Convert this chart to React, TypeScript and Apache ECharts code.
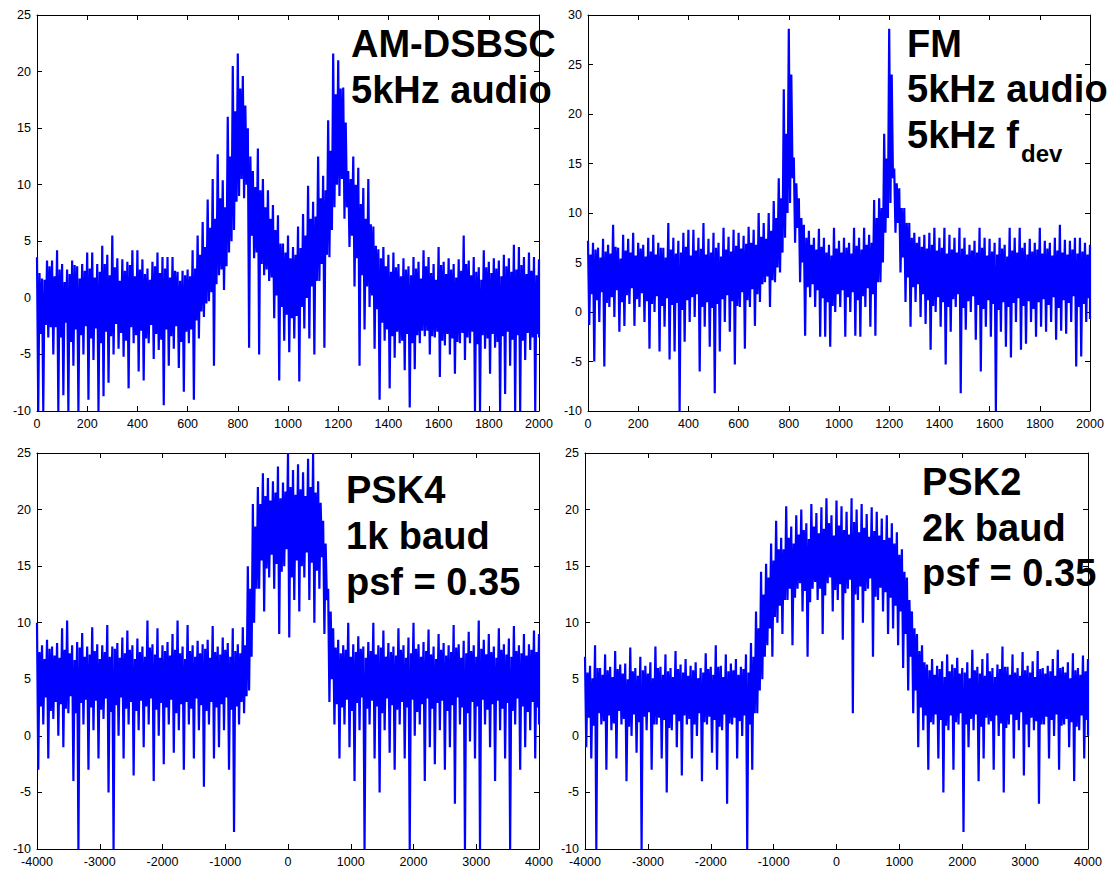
import React, { useEffect, useRef } from 'react';
import * as echarts from 'echarts';

// ---------- frequency grids ----------
const TOP_START = 0;
const TOP_STEP = 20; // Hz per bin
const BOT_START = -4000;
const BOT_STEP = 80; // Hz per bin

// Each bin holds an extreme excursion (HI/LO) and a typical excursion (MID_HI/MID_LO), in dB.

// ---------- AM-DSBSC (top-left) ----------
const AM_HI = [
  3.6, 1.7, 3.3, 3.3, 4.2, 3, 2.5, 3.3, 2.8, 3,
  4, 4, 3, 4.6, 3.8, 5.5, 3.5, 3.4, 3.2, 4.2,
  4.2, 3.4, 2.6, 3.2, 4, 3.6, 3.6, 3.6, 2.3, 2.4,
  2.5, 4.2, 5.5, 6.7, 8.7, 10.5, 12.7, 10.4, 16, 20.5,
  21.6, 19.6, 15, 11.2, 13.2, 10.5, 9.5, 8.2, 7.3, 4.8,
  5.5, 4.5, 6.3, 7.4, 9.9, 8.5, 12.5, 10.8, 15.7, 21.6,
  21, 18.6, 11.2, 12.5, 11.5, 9.7, 10.5, 6.3, 4.3, 4.5,
  3.8, 4, 3, 3.5, 2.8, 3.6, 3.2, 4.2, 3.6, 3,
  4.5, 3.2, 3.5, 3, 3.4, 5.5, 3.3, 3.6, 2.7, 4.2,
  3.2, 3.5, 3.3, 3.8, 3.5, 4.7, 4.5, 3.6, 4, 3.6,
  3.4,
];
const AM_LO = [
  -10, -10, -3.5, -5, -10, -8.6, -10, -6, -10, -5,
  -9, -5.5, -10, -8.7, -7.5, -5, -4.5, -5.2, -8, -4,
  -6.5, -7.3, -4, -5.4, -4.6, -9.5, -6, -4.5, -6.2, -8.3,
  -4, -9, -3.6, -1.7, -0.3, -6, 2, 0.7, 4, 6,
  9, 8.8, -4.4, 3.5, -5, 2, 1.5, -1.8, -7.3, -3.8,
  -4.8, -3.6, -7.4, -2.7, -3.6, -5, 1.5, -4.4, 3.6, 8,
  9, 7, 4.5, 1, -6, -2.8, -0.8, -4.5, -9, -3.8,
  -8, -5.3, -4, -6.4, -9.7, -6.3, -4, -3.4, -5, -3.5,
  -7, -4.2, -5, -6.7, -4, -5.5, -4, -10, -10, -4.5,
  -6.7, -4.4, -10, -8.5, -6, -10, -10, -5.5, -4.6, -10,
  -3.5,
];
const AM_MID_HI = [
  2.2, 1.6, 2.8, 1.9, 2.5, 1.4, 2.1, 2.9, 1.7, 2.4,
  2.6, 1.8, 2.3, 3.0, 2.0, 2.7, 1.5, 2.4, 2.9, 1.9,
  2.5, 2.1, 1.6, 2.8, 2.2, 2.6, 1.8, 2.4, 1.5, 2.0,
  1.9, 2.6, 3.8, 4.5, 6.2, 7.0, 8.8, 8.0, 12.5, 16.5,
  18.5, 17.0, 12.5, 9.8, 9.5, 8.0, 7.0, 6.0, 4.8, 4.0,
  3.5, 3.8, 4.4, 5.5, 7.0, 7.2, 8.8, 9.5, 13.0, 18.0,
  18.5, 15.5, 10.5, 10.0, 8.3, 7.0, 6.5, 4.6, 3.5, 2.8,
  2.3, 2.7, 1.9, 2.5, 2.0, 2.6, 1.7, 2.8, 2.2, 1.6,
  2.9, 2.1, 2.5, 1.8, 2.4, 3.0, 2.0, 2.3, 1.6, 2.7,
  2.2, 2.6, 1.9, 2.8, 2.3, 2.5, 2.9, 2.1, 2.4, 2.0,
  2.6,
];
const AM_MID_LO = [
  -3.2, -2.4, -2.6, -2.6, -3.5, -2.2, -3.9, -2.8, -3.3, -2.5,
  -3.6, -2.7, -4.0, -3.0, -3.4, -2.3, -3.1, -3.8, -2.6, -3.3,
  -2.9, -3.6, -2.4, -3.2, -3.7, -2.8, -3.4, -2.5, -3.9, -3.0,
  -2.8, -2.0, -1.2, -0.5, 0.5, 1.2, 2.5, 2.8, 5.0, 8.5,
  10.5, 10.0, 5.5, 4.0, 3.0, 2.5, 1.8, 0.2, -0.8, -1.5,
  -1.8, -1.6, -0.8, 0.0, 1.0, 1.5, 3.0, 3.8, 6.0, 10.0,
  10.5, 8.0, 5.5, 3.5, 2.0, 1.0, 0.2, -1.0, -2.2, -2.8,
  -3.4, -3.0, -3.8, -3.2, -4.0, -3.3, -2.9, -2.9, -3.4, -3.0,
  -3.8, -3.2, -3.6, -3.9, -3.1, -3.5, -3.0, -4.1, -3.3, -3.6,
  -3.2, -3.9, -3.4, -3.0, -3.7, -3.3, -3.8, -3.1, -3.5, -3.2,
  -2.8,
];

// ---------- FM (top-right) ----------
const FM_HI = [
  7.2, 7, 6.5, 7.4, 6.8, 8.8, 6.5, 7.8, 7.4, 8,
  7, 6.8, 7.5, 7.8, 7, 6.5, 9, 7.5, 7.2, 8,
  8.3, 8.3, 7.5, 9, 7.4, 8, 7, 8.5, 7.6, 8.3,
  8, 7.7, 8.6, 8.3, 10, 9, 10, 11.2, 13.5, 22.5,
  28.6, 15.6, 11.5, 8.8, 8.2, 7.5, 8.4, 7.5, 6.8, 8.5,
  7.2, 7.5, 7, 8.5, 7.5, 8.5, 7.8, 11.3, 11.5, 18,
  28.6, 14.5, 12.5, 10.5, 9, 8, 7.6, 7.8, 8, 8.5,
  7.5, 8.5, 7.8, 7.5, 8.5, 7.5, 6.8, 7.2, 8.5, 7.5,
  7.4, 7, 7.5, 6.8, 8.5, 7.5, 8.5, 7, 7.4, 7,
  8.5, 7.2, 7, 7.5, 8.8, 7.3, 7.2, 7.5, 7.5, 7,
  6.8,
];
const FM_LO = [
  -1.3, -5, -1, -5.5, 0.5, -0.5, -2, -1.4, 0.8, -1.4,
  0.5, -1, -3.7, 0, -4, -1.5, -4.8, -4, -10, -3,
  -1, -0.5, -6, -1.5, -3.5, -8.2, -4, -1, -2, -5.3,
  0.5, -3.7, 0.5, -1.4, 1, 3, 0.5, 3, 4, 7.5,
  11, 7, 3, -2.4, 1.5, 0.5, -2.5, -2.5, -3.5, 0,
  0.5, -2.5, 0, -2.4, -2.5, 0.5, -1.5, -2.4, 3, 8,
  11, 8, 4, 1, -1.5, 1, -0.5, -1.2, -3.8, 0,
  -1.5, -5.3, -2, 0.5, -8.2, -1.8, 0, -2.8, -6, -1.5,
  -2.5, -10, -2, -3.5, -4.6, -1, -3.8, -3.2, -1, -2.5,
  -1.5, -2, -1, -2.8, -1.9, -2.2, -1, -5.5, -4.5, -1,
  -0.7,
];
const FM_MID_HI = [
  5.8, 6.3, 5.5, 6.1, 5.9, 6.6, 5.4, 6.2, 6.0, 5.7,
  6.4, 5.6, 6.1, 5.8, 6.5, 5.5, 6.3, 5.9, 6.0, 6.6,
  5.7, 6.2, 6.4, 5.8, 6.0, 6.5, 5.6, 6.3, 6.1, 6.7,
  6.4, 6.9, 7.0, 6.8, 7.6, 7.4, 8.2, 9.5, 11.5, 18.0,
  24.0, 13.0, 9.5, 7.5, 6.8, 6.3, 6.6, 6.0, 5.7, 6.4,
  6.0, 6.5, 5.9, 6.7, 6.3, 6.8, 7.0, 9.5, 10.5, 15.5,
  24.0, 13.0, 10.5, 9.0, 7.5, 7.0, 6.6, 6.4, 6.8, 6.2,
  6.5, 5.9, 6.3, 6.0, 6.4, 5.8, 6.2, 6.0, 6.5, 5.7,
  6.1, 5.8, 6.4, 5.6, 6.2, 6.0, 6.5, 5.8, 6.1, 6.3,
  5.9, 6.4, 5.7, 6.2, 6.0, 5.8, 6.3, 5.9, 6.1, 5.8,
  6.0,
];
const FM_MID_LO = [
  1.8, 1.2, 2.0, 0.9, 1.5, 2.2, 1.0, 1.7, 2.4, 1.3,
  1.9, 1.1, 0.8, 1.6, 0.6, 1.4, 0.7, 0.9, 0.2, 1.2,
  1.5, 1.8, 0.5, 1.0, 0.4, 0.8, 1.3, 1.7, 1.1, 0.6,
  2.0, 1.2, 2.3, 1.8, 2.8, 3.6, 3.2, 4.5, 6.0, 10.0,
  13.5, 8.5, 5.0, 2.5, 2.8, 2.2, 1.4, 1.0, 0.6, 1.8,
  2.2, 1.5, 2.0, 1.2, 1.6, 2.4, 1.8, 3.0, 5.0, 9.5,
  13.5, 9.0, 5.5, 3.5, 2.5, 2.8, 1.8, 1.2, 0.6, 1.5,
  1.0, 0.5, 1.3, 1.8, 0.4, 1.1, 1.6, 0.7, 0.3, 1.2,
  0.8, 0.2, 1.0, 0.5, 0.9, 1.4, 0.6, 1.1, 0.3, 1.0,
  1.3, 0.7, 1.5, 0.4, 1.2, 0.9, 1.6, 0.5, 0.8, 1.4,
  1.5,
];

// ---------- PSK4 (bottom-left) ----------
const PSK4_HI = [
  10, 8.0, 8.5, 7.9, 8.2, 9.5, 10.2, 8.0, 8.3, 9.1,
  7.9, 9.6, 8.1, 8.0, 9.8, 7.9, 8.2, 8.7, 9.3, 8.0,
  8.6, 7.9, 10.2, 8.1, 9.5, 8.0, 8.3, 9.0, 10.2, 7.9,
  9.8, 8.0, 8.4, 8.1, 8.5, 9.7, 7.9, 8.7, 8.2, 9.5,
  8.1, 9.6, 15, 20.5, 22, 23.2, 22.8, 22.5, 23.8, 22.4,
  25, 23.5, 24, 23.3, 24.5, 25, 22.5, 19, 13, 9.5,
  8.5, 8.0, 10, 8.1, 8.8, 7.9, 8.3, 10, 8.0, 9.3,
  8.2, 7.9, 9.5, 8.0, 8.7, 10, 8.1, 8.3, 9.4, 7.9,
  9, 8.2, 8.0, 9.8, 8.1, 8.4, 9.2, 8.0, 10.2, 8.5,
  9, 7.9, 9.5, 8.1, 8.6, 9.7, 8.0, 9, 8.1, 9.3,
  9,
];
const PSK4_LO = [
  -3, 1, -2, 1.5, 0, -1, 2, -4, -10, 1,
  -3, 0.5, -2, 1.5, -5, -10, 0, -2, 1, -3.5,
  0.5, -1, 1, -4, 0, -2.5, 1, -1.5, 0.5, -3,
  1, -2, 0.5, -4.5, 1, -2, -1, 0.5, -3, -8.5,
  1, 2, 4, 10, 13, 11, 14, 13, 9, 15,
  8.7, 12, 11, 14, 12, 10, 13, 9, 3, 1,
  -2, 1, -1, -4, 0.5, -10, 1, -2, -5, 0.5,
  -1.5, -3, 1, -2, -10, 0, 1, -4, -1, -2.5,
  0.5, -3, -1, -6, 1, -10, -0.5, -2, -10, 1,
  -1, -4, 0.5, -2, -10, 1, -3, -1, 0.5, -2,
  1,
];
const PSK4_MID_HI = [
  7.4, 6.8, 7.7, 7.1, 6.9, 7.6, 7.3, 6.7, 7.8, 7.0,
  7.2, 7.5, 6.8, 7.4, 7.0, 7.7, 6.9, 7.3, 7.6, 6.8,
  7.4, 7.0, 7.8, 7.2, 6.9, 7.5, 7.1, 7.6, 7.3, 6.8,
  7.5, 7.0, 7.3, 7.7, 6.9, 7.4, 7.2, 7.6, 7.0, 7.5,
  7.3, 8.0, 13.0, 18.5, 20.5, 21.2, 20.8, 21.5, 21.0, 21.6,
  22.0, 21.3, 21.8, 21.2, 22.0, 21.5, 20.6, 17.0, 11.0, 7.8,
  7.3, 7.6, 7.0, 7.4, 7.7, 6.9, 7.5, 7.2, 7.8, 7.0,
  7.4, 7.1, 7.6, 6.9, 7.3, 7.7, 7.0, 7.5, 7.2, 6.8,
  7.6, 7.1, 7.4, 7.8, 6.9, 7.3, 7.5, 7.0, 7.7, 7.2,
  7.4, 6.9, 7.6, 7.2, 7.0, 7.5, 7.3, 7.1, 7.6, 7.4,
  7.2,
];
const PSK4_MID_LO = [
  2.6, 3.4, 2.2, 3.0, 2.8, 2.4, 3.5, 2.0, 2.9, 3.2,
  2.5, 3.1, 2.3, 3.3, 2.1, 2.7, 3.4, 2.4, 3.0, 2.2,
  3.1, 2.6, 3.3, 2.3, 2.9, 2.5, 3.2, 2.0, 2.8, 3.0,
  2.4, 3.3, 2.7, 2.2, 3.0, 2.5, 2.8, 3.4, 2.3, 2.6,
  3.0, 3.5, 7.0, 13.0, 15.5, 14.8, 16.0, 15.2, 14.5, 16.5,
  14.0, 15.5, 15.0, 16.2, 15.3, 14.6, 15.8, 12.0, 5.0, 2.8,
  2.5, 3.2, 2.2, 2.9, 3.4, 2.4, 3.1, 2.6, 2.0, 3.3,
  2.7, 2.3, 3.0, 2.5, 3.2, 2.1, 2.8, 3.3, 2.4, 2.9,
  3.1, 2.2, 2.7, 3.4, 2.5, 2.0, 3.0, 2.6, 3.2, 2.3,
  2.8, 3.1, 2.4, 2.9, 2.2, 3.3, 2.6, 2.1, 3.0, 2.5,
  2.8,
];

// ---------- PSK2 (bottom-right) ----------
const PSK2_HI = [
  7, 6.2, 8, 6.0, 7.2, 6.1, 7.5, 6.3, 6.4, 7.8,
  6.0, 7, 6.2, 6.5, 7.9, 6.1, 7.2, 6.0, 7.5, 6.3,
  6.8, 6.2, 6.5, 6.0, 7.3, 6.1, 8, 6.2, 7.2, 6.4,
  6.8, 6.1, 7.2, 8.2, 11, 14.5, 15.2, 17, 19, 17.5,
  20.3, 18.5, 19.5, 20, 18.8, 20.5, 19.7, 20.2, 21, 19.5,
  20.8, 20.3, 19.8, 21, 20, 20.5, 19.6, 20.2, 19.8, 19.2,
  19.5, 18.8, 18, 16.5, 14, 11, 9, 8, 6.3, 6.8,
  6.2, 6.6, 7.2, 6.3, 6.9, 6.0, 6.5, 7.6, 6.1, 6.8,
  7.3, 6.0, 6.3, 7.9, 6.1, 7.2, 6.0, 7.4, 6.2, 6.6,
  7.5, 6.0, 6.2, 6.8, 7.6, 6.1, 6.5, 7.3, 6.0, 7.1,
  6.8,
];
const PSK2_LO = [
  -1, -2, -10, 1, -3, 0.5, -2, 1, -4, 0,
  -1.5, -10, 0.5, -3, 1, -2, -5, 0.5, -1, -3.5,
  1, -2, 0, -4, 1, -1.5, -3, 0.5, -6, 1,
  -2, 0, -10, -3, 2, 5, 8, 7, 10, 9,
  12, 8, 13, 11, 7, 13, 12, 9, 13.5, 11,
  12, 8.5, 13, 2, 12, 10, 13, 7, 12, 11,
  9, 9.5, 8, 6, 4, 2, -1, 0.5, -3, 1,
  -2, -5, 0.5, -3, 1, -8.5, -1, 0.5, -4, -2,
  1, -3, 0, -5, 1, -2, 0.5, -3.5, -1, 0.5,
  -6, 1, -2, 0, -3, 1, -1, -4, 0.5, -2,
  0,
];
const PSK2_MID_HI = [
  5.6, 5.1, 6.0, 5.4, 5.8, 5.2, 5.9, 5.5, 5.0, 5.7,
  5.3, 5.8, 5.5, 5.1, 6.0, 5.4, 5.7, 5.2, 5.9, 5.6,
  5.3, 5.8, 5.1, 5.6, 5.9, 5.4, 6.1, 5.2, 5.7, 5.8,
  5.4, 5.9, 5.6, 7.0, 9.5, 12.5, 14.0, 15.5, 16.5, 16.5,
  17.5, 17.0, 17.8, 18.2, 17.4, 18.5, 17.9, 18.3, 18.8, 17.7,
  18.6, 18.2, 17.8, 18.9, 18.0, 18.4, 17.6, 18.1, 17.7, 17.3,
  17.5, 17.0, 16.0, 14.5, 12.0, 9.5, 7.5, 6.5, 5.8, 5.4,
  5.9, 5.2, 5.7, 6.0, 5.5, 5.6, 5.1, 5.8, 5.5, 5.3,
  5.7, 5.2, 5.9, 6.1, 5.4, 5.6, 5.3, 5.8, 5.6, 5.2,
  5.9, 5.5, 5.7, 5.3, 6.0, 5.6, 5.1, 5.8, 5.4, 5.7,
  5.5,
];
const PSK2_MID_LO = [
  1.6, 0.9, 2.0, 1.3, 1.8, 1.1, 2.2, 1.5, 0.8, 1.9,
  1.2, 1.7, 2.1, 1.0, 1.6, 1.4, 0.7, 1.9, 1.3, 1.8,
  1.5, 1.0, 2.0, 1.2, 1.7, 1.4, 0.8, 1.9, 1.1, 1.6,
  1.3, 1.8, 1.0, 2.0, 4.0, 7.0, 9.5, 10.5, 11.5, 12.0,
  13.0, 12.2, 13.5, 12.8, 11.8, 13.6, 13.0, 12.4, 14.0, 12.9,
  13.4, 12.6, 13.8, 12.5, 13.2, 12.8, 13.9, 12.3, 13.1, 12.7,
  12.2, 11.5, 11.0, 9.0, 7.0, 4.0, 2.5, 1.8, 1.2, 1.9,
  1.4, 0.9, 1.8, 1.2, 2.0, 1.0, 1.5, 1.9, 0.8, 1.6,
  1.3, 1.8, 1.1, 0.7, 1.9, 1.4, 2.1, 1.0, 1.6, 1.3,
  1.0, 1.7, 1.4, 1.9, 0.9, 1.5, 1.2, 0.8, 1.8, 1.4,
  1.5,
];

const BLUE = '#0000ff';
const LABEL_FONT = '"Liberation Sans", Arial, sans-serif';

type Panel = {
  grid: { left: number; top: number; width: number; height: number };
  x: [number, number, number];
  y: [number, number, number];
  start: number;
  step: number;
  hi: number[];
  lo: number[];
  midHi: number[];
  midLo: number[];
};

const PANELS: Panel[] = [
  { grid: { left: 37, top: 15, width: 502, height: 396 }, x: [0, 2000, 200], y: [-10, 25, 5],
    start: TOP_START, step: TOP_STEP, hi: AM_HI, lo: AM_LO, midHi: AM_MID_HI, midLo: AM_MID_LO },
  { grid: { left: 588, top: 15, width: 502, height: 396 }, x: [0, 2000, 200], y: [-10, 30, 5],
    start: TOP_START, step: TOP_STEP, hi: FM_HI, lo: FM_LO, midHi: FM_MID_HI, midLo: FM_MID_LO },
  { grid: { left: 37, top: 453, width: 502, height: 396 }, x: [-4000, 4000, 1000], y: [-10, 25, 5],
    start: BOT_START, step: BOT_STEP, hi: PSK4_HI, lo: PSK4_LO, midHi: PSK4_MID_HI, midLo: PSK4_MID_LO },
  { grid: { left: 585, top: 453, width: 503, height: 396 }, x: [-4000, 4000, 1000], y: [-10, 25, 5],
    start: BOT_START, step: BOT_STEP, hi: PSK2_HI, lo: PSK2_LO, midHi: PSK2_MID_HI, midLo: PSK2_MID_LO },
];

// Trace visits, within each bin: extreme high, extreme low, typical high, typical low.
function trace(p: Panel): number[][] {
  const pts: number[][] = [];
  const n = p.hi.length;
  for (let i = 0; i < n; i++) {
    const x = p.start + i * p.step;
    const q = i < n - 1 ? p.step / 4 : 0;
    pts.push([x, p.hi[i]]);
    pts.push([x + q, p.lo[i]]);
    pts.push([x + 2 * q, p.midHi[i]]);
    pts.push([x + 3 * q, p.midLo[i]]);
  }
  return pts;
}

const TEXT_FONT = 'bold 38px "Liberation Sans", Arial, sans-serif';
const ANNOTATIONS: { text: string; x: number; y: number; font?: string }[] = [
  { text: 'AM-DSBSC', x: 351, y: 43.5 },
  { text: '5kHz audio', x: 351, y: 90 },
  { text: 'FM', x: 907, y: 43.7 },
  { text: '5kHz audio', x: 907, y: 88.7 },
  { text: '5kHz f', x: 907, y: 134.7 },
  { text: 'dev', x: 1021, y: 153.5, font: 'bold 24px "Liberation Sans", Arial, sans-serif' },
  { text: 'PSK4', x: 346, y: 490 },
  { text: '1k baud', x: 346, y: 535.7 },
  { text: 'psf = 0.35', x: 346, y: 581.7 },
  { text: 'PSK2', x: 922, y: 481.7 },
  { text: '2k baud', x: 922, y: 528.4 },
  { text: 'psf = 0.35', x: 922, y: 573.4 },
];

function buildOption(): any {
  const grid: any[] = [];
  const xAxis: any[] = [];
  const yAxis: any[] = [];
  const series: any[] = [];
  const axisLine = { show: true, onZero: false, lineStyle: { color: '#000', width: 1 } };
  const axisTick = { show: true, inside: true, length: 5, lineStyle: { color: '#000', width: 1 } };
  const label = {
    show: true,
    color: '#000',
    fontSize: 12.5,
    fontFamily: LABEL_FONT,
    showMinLabel: true,
    showMaxLabel: true,
    hideOverlap: false,
    formatter: (v: number) => String(v),
  };
  PANELS.forEach((p, gi) => {
    grid.push({ ...p.grid, containLabel: false });
    const xBase = { gridIndex: gi, type: 'value', min: p.x[0], max: p.x[1], interval: p.x[2], splitLine: { show: false }, axisLine, axisTick };
    const yBase = { gridIndex: gi, type: 'value', min: p.y[0], max: p.y[1], interval: p.y[2], splitLine: { show: false }, axisLine, axisTick };
    xAxis.push({ ...xBase, position: 'bottom', axisLabel: { ...label, margin: 6 } });
    xAxis.push({ ...xBase, position: 'top', axisLabel: { show: false } });
    yAxis.push({ ...yBase, position: 'left', axisLabel: { ...label, margin: 6 } });
    yAxis.push({ ...yBase, position: 'right', axisLabel: { show: false } });
    series.push({
      type: 'line',
      xAxisIndex: gi * 2,
      yAxisIndex: gi * 2,
      data: trace(p),
      showSymbol: false,
      symbol: 'none',
      clip: true,
      silent: true,
      lineStyle: { color: BLUE, width: 2.2, join: 'miter', miterLimit: 2 },
    });
  });
  const graphic = ANNOTATIONS.map((a) => ({
    type: 'text',
    x: a.x,
    y: a.y,
    z: -1,
    silent: true,
    style: {
      text: a.text,
      font: a.font || TEXT_FONT,
      fill: '#000',
      textAlign: 'left',
      textVerticalAlign: 'middle',
    },
  }));
  return {
    animation: false,
    backgroundColor: '#fff',
    grid,
    xAxis,
    yAxis,
    series,
    graphic,
  };
}

export default function App() {
  const ref = useRef<HTMLDivElement>(null);
  useEffect(() => {
    if (!ref.current) return;
    const chart = echarts.init(ref.current, undefined, { renderer: 'svg' });
    chart.setOption(buildOption());
    return () => chart.dispose();
  }, []);
  return (
    <div
      ref={ref}
      style={{ position: 'fixed', left: 0, top: 0, width: 1114, height: 869, background: '#fff' }}
    />
  );
}
